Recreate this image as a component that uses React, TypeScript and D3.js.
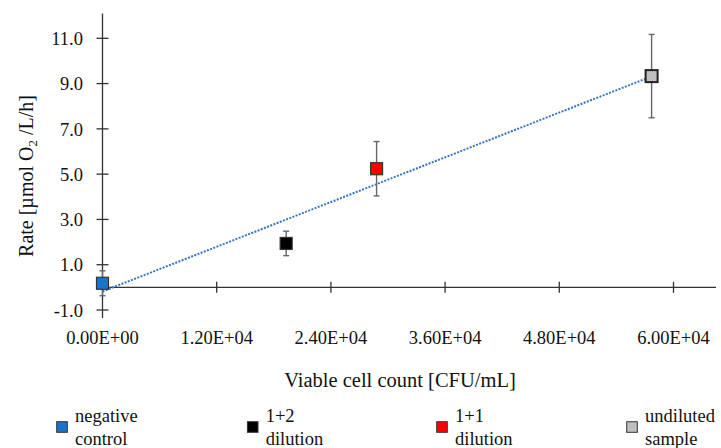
import React from "react";
import * as d3 from "d3";

const categories = ["negative control", "1+2 dilution", "1+1 dilution", "undiluted sample"];
const legendLine1 = ["negative", "1+2", "1+1", "undiluted"];
const legendLine2 = ["control", "dilution", "dilution", "sample"];
const cellCounts = [0, 19300, 28800, 57700];
const rates = [0.18, 1.94, 5.24, 9.33];
const rateErrors = [0.55, 0.54, 1.2, 1.84];
const colors = ["#1874CD", "#000000", "#FF0000", "#BFBFBF"];
const xTicks = [0, 12000, 24000, 36000, 48000, 60000];
const yTicks = [-1, 1, 3, 5, 7, 9, 11];

const FONT = "'Liberation Serif', 'Times New Roman', serif";

export default function App() {
  const x = d3.scaleLinear().domain([0, 60000]).range([102.5, 673.5]);
  const y = d3.scaleLinear().domain([-1, 11]).range([310, 38.3]);

  // linear least-squares trendline
  const mx = d3.mean(cellCounts)!;
  const my = d3.mean(rates)!;
  let sxy = 0, sxx = 0;
  cellCounts.forEach((c, i) => {
    sxy += (c - mx) * (rates[i] - my);
    sxx += (c - mx) * (c - mx);
  });
  const slope = sxy / sxx;
  const intercept = my - slope * mx;
  const x0 = d3.min(cellCounts)!;
  const x1 = d3.max(cellCounts)!;
  const trend = d3.line<number>().x((d) => x(d)).y((d) => y(intercept + slope * d))([x0, x1]);

  const ms = 12;
  const legendX = [62, 252.7, 442, 632];

  return (
    <svg width={721} height={448} style={{ position: "absolute", left: 0, top: 0, background: "#fff" }}>
      {/* y axis */}
      <line x1={x(0)} x2={x(0)} y1={y(12.1)} y2={y(-1.35)} stroke="#333" strokeWidth={1.3} />
      {yTicks.map((t) => (
        <g key={"y" + t}>
          <line x1={x(0) - 6} x2={x(0) + 6} y1={y(t)} y2={y(t)} stroke="#333" strokeWidth={1.3} />
          <text x={83} y={y(t)} dy="0.36em" textAnchor="end" fontFamily={FONT} fontSize={18.5} fill="#111">
            {t.toFixed(1)}
          </text>
        </g>
      ))}
      {/* x axis */}
      <line x1={x(0)} x2={716} y1={y(0)} y2={y(0)} stroke="#333" strokeWidth={1.3} />
      {xTicks.map((t) => (
        <g key={"x" + t}>
          {t !== 0 && (
            <line x1={x(t)} x2={x(t)} y1={y(0) - 5.5} y2={y(0) + 5.5} stroke="#333" strokeWidth={1.3} />
          )}
          <text x={x(t)} y={344} textAnchor="middle" fontFamily={FONT} fontSize={18.5} fill="#111">
            {t.toExponential(2).replace("e+", "E+0").replace("E+00", "E+00").replace(/E\+0(\d\d)/, "E+$1")}
          </text>
        </g>
      ))}
      {/* axis titles */}
      <text x={400} y={386.5} textAnchor="middle" fontFamily={FONT} fontSize={20.5} fill="#111">
        Viable cell count [CFU/mL]
      </text>
      <text
        transform={`translate(33,176) rotate(-90)`}
        textAnchor="middle"
        fontFamily={FONT}
        fontSize={20}
        fill="#111"
      >
        Rate [µmol O<tspan fontSize={13} dy={4}>2</tspan>
        <tspan dy={-4}> /L/h]</tspan>
      </text>
      {/* trendline */}
      <path d={trend!} fill="none" stroke="#3575C8" strokeWidth={2} strokeDasharray="2 1.4" />
      {/* error bars */}
      {cellCounts.map((c, i) => (
        <g key={"e" + i} stroke="#666" strokeWidth={1.4}>
          <line x1={x(c)} x2={x(c)} y1={y(rates[i] + rateErrors[i])} y2={y(rates[i] - rateErrors[i])} />
          <line x1={x(c) - 3} x2={x(c) + 3} y1={y(rates[i] + rateErrors[i])} y2={y(rates[i] + rateErrors[i])} />
          <line x1={x(c) - 3} x2={x(c) + 3} y1={y(rates[i] - rateErrors[i])} y2={y(rates[i] - rateErrors[i])} />
        </g>
      ))}
      {/* markers */}
      {cellCounts.map((c, i) => (
        <rect
          key={"m" + i}
          x={x(c) - ms / 2}
          y={y(rates[i]) - ms / 2}
          width={ms}
          height={ms}
          fill={colors[i]}
          stroke={i === 3 ? "#222" : "#333"}
          strokeWidth={i === 3 ? 2 : 1.2}
        />
      ))}
      {/* legend */}
      {categories.map((cat, i) => (
        <g key={"l" + i}>
          <rect x={legendX[i] - 5.3} y={421.7} width={10.6} height={10.6} fill={colors[i]} stroke="#333" strokeWidth={1} />
          <text x={legendX[i] + 13} y={421.7} fontFamily={FONT} fontSize={18.5} fill="#111">
            {legendLine1[i]}
          </text>
          <text x={legendX[i] + 13} y={445} fontFamily={FONT} fontSize={18.5} fill="#111">
            {legendLine2[i]}
          </text>
        </g>
      ))}
    </svg>
  );
}
